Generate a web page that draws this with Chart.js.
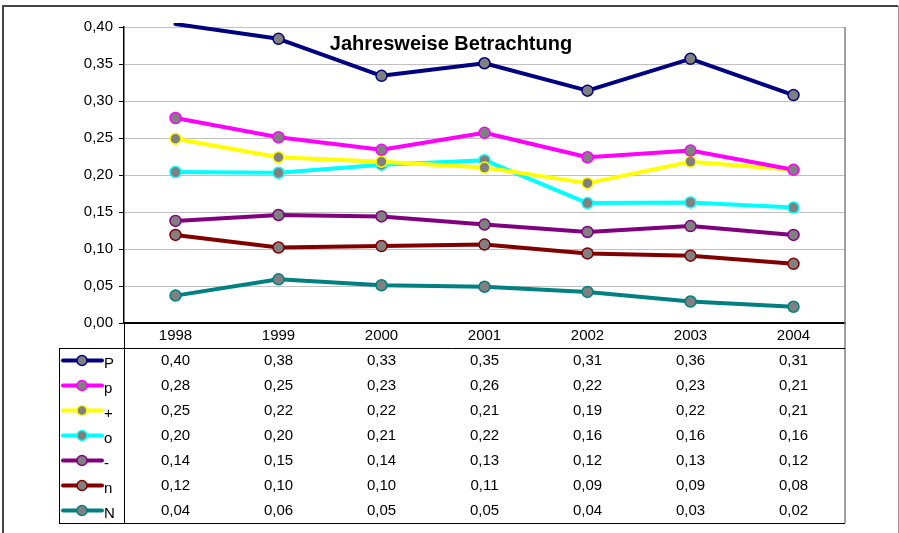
<!DOCTYPE html>
<html>
<head>
<meta charset="utf-8">
<script src="https://cdn.jsdelivr.net/npm/chart.js@4.4.0/dist/chart.umd.min.js"></script>
<style>
  html, body { margin: 0; padding: 0; background: #fff; }
  canvas { display: block; }
</style>
</head>
<body>
<canvas id="chart" width="899" height="533"></canvas>
<script>
// years on the x axis
const years = ['1998', '1999', '2000', '2001', '2002', '2003', '2004'];
const seriesNames = ['P', 'p', '+', 'o', '-', 'n', 'N'];
const seriesColors = ['#000080', '#FF00FF', '#FFFF00', '#00FFFF', '#800080', '#800000', '#008080'];

// values
const valP     = [0.404, 0.384, 0.334, 0.351, 0.314, 0.357, 0.308];
const valSmallP = [0.277, 0.251, 0.234, 0.257, 0.224, 0.233, 0.207];
const valPlus  = [0.249, 0.224, 0.218, 0.210, 0.189, 0.218, 0.207];
const valO     = [0.204, 0.203, 0.214, 0.220, 0.162, 0.163, 0.156];
const valMinus = [0.138, 0.146, 0.144, 0.133, 0.123, 0.131, 0.119];
const valN     = [0.119, 0.102, 0.104, 0.106, 0.094, 0.091, 0.080];
const valBigN  = [0.037, 0.059, 0.051, 0.049, 0.042, 0.029, 0.022];
const allValues = [valP, valSmallP, valPlus, valO, valMinus, valN, valBigN];

// y axis
const yMin = 0, yMax = 0.4, yStep = 0.05;

const FONT = 'Liberation Sans, Arial, sans-serif';

function fmt(v) {
  return v.toFixed(2).replace('.', ',');
}

function data_create() {
  var data = [];
  for (var i = 0; i < seriesNames.length; i++) {
    data.push({
      label: seriesNames[i],
      data: allValues[i],
      borderColor: seriesColors[i],
      borderWidth: 4,
      pointBackgroundColor: '#808080',
      pointBorderColor: seriesColors[i],
      pointBorderWidth: 1.5,
      pointRadius: function (ctx) {
        // excel drops markers that lie outside the axis range
        return ctx.raw > yMax ? 0 : 5.5;
      },
      tension: 0,
      fill: false,
      clip: { left: 10, right: 10, top: 4, bottom: 10 },
      borderCapStyle: 'round',
      borderJoinStyle: 'round'
    });
  }
  return data;
}

const tableRows = 7;
const headerHeight = 25;
const rowHeight = 25;
const legendLeft = 59;

// draws the data table below the plot plus frame and title
const tablePlugin = {
  id: 'dataTable',
  afterDraw(chart) {
    const ctx = chart.ctx;
    const area = chart.chartArea;
    const xs = chart.scales.x;
    const top = area.bottom + headerHeight;
    const bottom = top + tableRows * rowHeight;
    ctx.save();

    // outer frame
    ctx.strokeStyle = '#444';
    ctx.lineWidth = 2;
    ctx.beginPath();
    ctx.moveTo(3, 540); ctx.lineTo(3, 6); ctx.lineTo(898, 6);
    ctx.stroke();
    ctx.strokeStyle = '#999';
    ctx.lineWidth = 1;
    ctx.beginPath();
    ctx.moveTo(898.5, 6); ctx.lineTo(898.5, 540);
    ctx.stroke();

    // plot area right edge down through the table
    ctx.strokeStyle = '#808080';
    ctx.lineWidth = 1.5;
    ctx.beginPath();
    ctx.moveTo(area.right, area.top); ctx.lineTo(area.right, bottom);
    ctx.stroke();

    // table lines
    ctx.strokeStyle = '#000';
    ctx.lineWidth = 1;
    ctx.beginPath();
    ctx.moveTo(area.left + 0.5, area.bottom); ctx.lineTo(area.left + 0.5, bottom);
    ctx.moveTo(legendLeft + 0.5, top + 0.5); ctx.lineTo(area.right, top + 0.5);
    ctx.moveTo(legendLeft + 0.5, top); ctx.lineTo(legendLeft + 0.5, bottom + 0.5);
    ctx.moveTo(legendLeft, bottom + 0.5); ctx.lineTo(area.right, bottom + 0.5);
    ctx.stroke();

    // rows
    ctx.font = '15px ' + FONT;
    ctx.textBaseline = 'middle';
    for (var i = 0; i < seriesNames.length; i++) {
      const cy = top + rowHeight * i + rowHeight / 2;
      // legend key
      ctx.strokeStyle = seriesColors[i];
      ctx.lineWidth = 4;
      ctx.lineCap = 'round';
      ctx.beginPath();
      ctx.moveTo(63, cy); ctx.lineTo(102, cy);
      ctx.stroke();
      ctx.beginPath();
      ctx.arc(82, cy, 5, 0, Math.PI * 2);
      ctx.fillStyle = '#808080';
      ctx.fill();
      ctx.lineWidth = 1.5;
      ctx.stroke();
      ctx.fillStyle = '#000';
      ctx.textAlign = 'left';
      ctx.fillText(seriesNames[i], 104, cy + 3);
      // values
      ctx.textAlign = 'center';
      for (var j = 0; j < years.length; j++) {
        ctx.fillText(fmt(allValues[i][j]), xs.getPixelForValue(j), cy);
      }
    }

    // title
    ctx.font = 'bold 20px ' + FONT;
    ctx.textAlign = 'center';
    ctx.fillText('Jahresweise Betrachtung', 451, 44);
    ctx.restore();
  }
};

new Chart(document.getElementById('chart'), {
  type: 'line',
  data: {
    labels: years,
    datasets: data_create()
  },
  options: {
    responsive: false,
    animation: false,
    devicePixelRatio: 1,
    layout: { padding: { left: 60, top: 27, right: 54, bottom: 185 } },
    plugins: {
      legend: { display: false },
      title: { display: false },
      tooltip: { enabled: false }
    },
    scales: {
      x: {
        offset: true,
        grid: { display: false, drawTicks: false, offset: true },
        border: { color: '#000', width: 2 },
        ticks: { color: '#000', font: { family: FONT, size: 15 }, padding: 4, maxRotation: 0 },
        afterFit: function (scale) { scale.height = 25; }
      },
      y: {
        min: yMin,
        max: yMax,
        ticks: {
          stepSize: yStep,
          color: '#000',
          font: { family: FONT, size: 15 },
          padding: 6,
          callback: function (v) { return fmt(v); }
        },
        grid: { color: '#c0c0c0', lineWidth: 1, tickLength: 5, tickColor: '#000', tickWidth: 1 },
        border: { color: '#000', width: 1.5 },
        afterFit: function (scale) { scale.width = 64; }
      }
    }
  },
  plugins: [tablePlugin]
});
</script>
</body>
</html>
